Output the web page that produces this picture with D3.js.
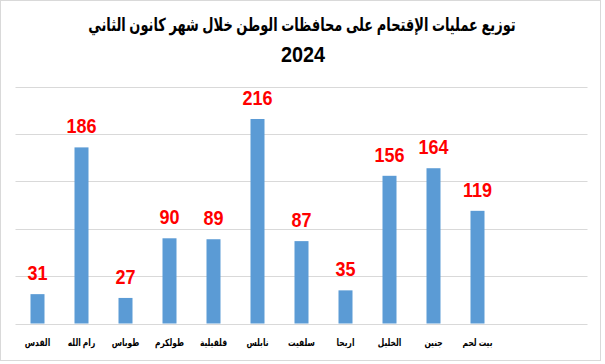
<!DOCTYPE html>
<html>
<head>
<meta charset="utf-8">
<script src="https://cdn.jsdelivr.net/npm/d3@7"></script>
<style>
  body { margin: 0; background: #fff; }
  svg { display: block; font-family: "Liberation Sans", Arial, "DejaVu Sans", sans-serif; }
</style>
</head>
<body>
<svg id="chart" width="605" height="364"></svg>
<script>
// chart data
const titleLines = ["توزيع عمليات الإقتحام على محافظات الوطن خلال شهر كانون الثاني", "2024"];
const governorates = ["القدس", "رام الله", "طوباس", "طولكرم", "قلقيلية", "نابلس", "سلفيت", "اريحا", "الخليل", "جنين", "بيت لحم"];
const raids = [31, 186, 27, 90, 89, 216, 87, 35, 156, 164, 119];
const yTicks = [0, 50, 100, 150, 200, 250];

const svg = d3.select("#chart");

// outer frame
svg.append("rect")
    .attr("x", 0.5).attr("y", 0.5)
    .attr("width", 600).attr("height", 360)
    .attr("fill", "none")
    .attr("stroke", "#d9d9d9");

// the plot keeps two empty slots at the right end
const x = d3.scaleBand()
    .domain(d3.range(governorates.length + 2))
    .range([15.5, 587.5]);

const y = d3.scaleLinear()
    .domain([0, 250])
    .range([323.5, 86.8]);

// gridlines
svg.append("g")
    .selectAll("line")
    .data(yTicks)
    .join("line")
    .attr("x1", 15.5)
    .attr("x2", 587.5)
    .attr("y1", d => Math.round(y(d)) + 0.5)
    .attr("y2", d => Math.round(y(d)) + 0.5)
    .attr("stroke", "#d9d9d9")
    .attr("stroke-width", 1);

const barW = 14;

// bars
svg.append("g")
    .selectAll("rect")
    .data(raids)
    .join("rect")
    .attr("x", (d, i) => x(i) + x.bandwidth() / 2 - barW / 2)
    .attr("y", d => y(d))
    .attr("width", barW)
    .attr("height", d => y(0) - y(d))
    .attr("fill", "#5b9bd5");

// value labels (narrow-ish, like the original office font)
svg.append("g")
    .selectAll("text")
    .data(raids)
    .join("text")
    .attr("transform", (d, i) => `translate(${x(i) + x.bandwidth() / 2},${y(d) - 14}) scale(0.9,1)`)
    .attr("text-anchor", "middle")
    .attr("fill", "#ff0000")
    .attr("font-weight", "bold")
    .attr("font-size", 20)
    .text(d => d);

// category labels (arabic falls back to a wide face, squeeze it a bit)
svg.append("g")
    .selectAll("text")
    .data(governorates)
    .join("text")
    .attr("transform", (d, i) => `translate(${x(i) + x.bandwidth() / 2},346) scale(0.75,1)`)
    .attr("text-anchor", "middle")
    .attr("direction", "rtl")
    .attr("font-weight", "bold")
    .attr("font-size", 10)
    .attr("fill", "#000")
    .text(d => d);

// title
svg.append("text")
    .attr("transform", "translate(302,31) scale(0.72,1)")
    .attr("text-anchor", "middle")
    .attr("font-weight", "bold")
    .attr("font-size", 18)
    .text(titleLines[0]);

svg.append("text")
    .attr("transform", "translate(303,62) scale(0.9,1)")
    .attr("text-anchor", "middle")
    .attr("font-weight", "bold")
    .attr("font-size", 22)
    .text(titleLines[1]);
</script>
</body>
</html>
